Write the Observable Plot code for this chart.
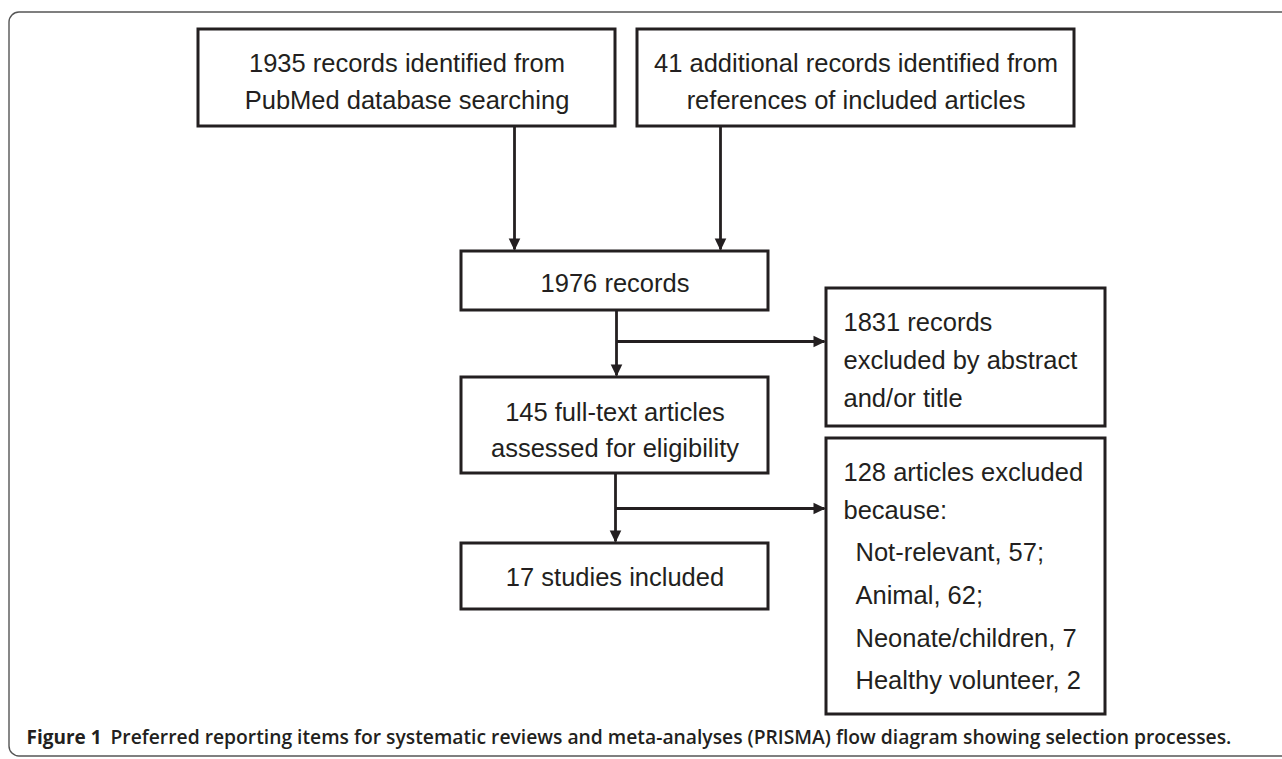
<!DOCTYPE html>
<html><head><meta charset="utf-8">
<script src="https://cdn.jsdelivr.net/npm/d3@7"></script>
<script src="https://cdn.jsdelivr.net/npm/@observablehq/plot@0.6"></script>
<style>html,body{margin:0;padding:0;background:#fff;overflow:hidden}</style>
</head><body><div id="chart"></div>
<script>
// ---- data (PRISMA flow) ----
const stageIds = ["database", "references", "records", "excludedAbstract", "fullText", "excludedFullText", "included"];
const stageCounts = [1935, 41, 1976, 1831, 145, 128, 17];
const stageLines = [
  ["1935 records identified from", "PubMed database searching"],
  ["41 additional records identified from", "references of included articles"],
  ["1976 records"],
  ["1831 records", "excluded by abstract", "and/or title"],
  ["145 full-text articles", "assessed for eligibility"],
  ["128 articles excluded", "because:"],
  ["17 studies included"]
];
const exclusionReasons = ["Not-relevant", "Animal", "Neonate/children", "Healthy volunteer"];
const exclusionCounts = [57, 62, 7, 2];
const exclusionSeparators = [";", ";", "", ""];
const flowFrom = ["database", "references", "records", "records", "fullText", "fullText"];
const flowTo = ["records", "records", "fullText", "excludedAbstract", "included", "excludedFullText"];
const captionLabel = "Figure 1";
const captionText = "Preferred reporting items for systematic reviews and meta-analyses (PRISMA) flow diagram showing selection processes.";

// ---- layout (positions in page pixels) ----
const W = 1282, H = 759;
const boxLayout = {
  database:         {x1: 198, x2: 615,  y1: 29,  y2: 126, align: "middle", tx: 406.5, ty: [63, 100]},
  references:       {x1: 637, x2: 1074, y1: 29,  y2: 126, align: "middle", tx: 855.5, ty: [63, 100]},
  records:          {x1: 461, x2: 768,  y1: 251, y2: 310, align: "middle", tx: 614.5, ty: [283]},
  excludedAbstract: {x1: 826, x2: 1105, y1: 288, y2: 426, align: "start",  tx: 843,   ty: [322, 360, 398]},
  fullText:         {x1: 461, x2: 768,  y1: 377, y2: 473, align: "middle", tx: 614.5, ty: [412, 448]},
  excludedFullText: {x1: 826, x2: 1105, y1: 438, y2: 714, align: "start",  tx: 843,   ty: [472, 510], rx: 855, ry: [552, 595, 638, 680]},
  included:         {x1: 461, x2: 768,  y1: 543, y2: 609, align: "middle", tx: 614.5, ty: [577]}
};
// flow connectors: [x1,y1,x2,y2] of the line and the arrow tip direction
const flowLayout = [
  {x1: 514, y1: 126, x2: 514, y2: 249, dir: "down"},
  {x1: 720, y1: 126, x2: 720, y2: 249, dir: "down"},
  {x1: 616, y1: 310, x2: 616, y2: 375, dir: "down"},
  {x1: 616, y1: 341, x2: 824, y2: 341, dir: "right"},
  {x1: 615, y1: 473, x2: 615, y2: 541, dir: "down"},
  {x1: 615, y1: 508, x2: 824, y2: 508, dir: "right"}
];

// ---- build mark tables ----
const boxes = stageIds.map((id, i) => ({id, count: stageCounts[i], ...boxLayout[id]}));
const texts = [];
stageIds.forEach((id, i) => {
  const L = boxLayout[id];
  stageLines[i].forEach((t, j) => texts.push({text: t, x: L.tx, y: L.ty[j], anchor: L.align}));
  if (id === "excludedFullText") {
    exclusionReasons.forEach((r, k) => texts.push({
      text: `${r}, ${exclusionCounts[k]}${exclusionSeparators[k]}`, x: L.rx, y: L.ry[k], anchor: "start"
    }));
  }
});
const flows = flowFrom.map((f, i) => ({from: f, to: flowTo[i], ...flowLayout[i]}));

const ink = "#231f20";
const headSymbol = {
  draw(ctx) { // tip at origin, pointing down
    ctx.moveTo(0, 1);
    ctx.lineTo(-5.8, -11);
    ctx.lineTo(5.8, -11);
    ctx.closePath();
  }
};
const boxFont = "Liberation Sans, Arial, sans-serif";

const chart = Plot.plot({
  width: W, height: H,
  margin: 0,
  x: {domain: [0, W], range: [0, W], axis: null},
  y: {domain: [0, H], range: [0, H], axis: null},
  marks: [
    // outer figure frame
    Plot.rect([{x1: 9, x2: W + 30, y1: 12, y2: 756}], {
      x1: "x1", x2: "x2", y1: "y1", y2: "y2", rx: 10,
      fill: "none", stroke: "#555", strokeWidth: 1.4, clip: true
    }),
    // connectors
    Plot.link(flows, {x1: "x1", y1: "y1", x2: "x2", y2: "y2", stroke: ink, strokeWidth: 2.8}),
    Plot.dot(flows, {
      x: "x2", y: "y2", symbol: headSymbol, r: 5, fill: ink, stroke: "none",
      rotate: d => d.dir === "down" ? 0 : -90
    }),
    // boxes
    Plot.rect(boxes, {x1: "x1", x2: "x2", y1: "y1", y2: "y2", fill: "white", stroke: ink, strokeWidth: 3}),
    // box text
    Plot.text(texts.filter(d => d.anchor === "middle"), {
      x: "x", y: "y", text: "text", textAnchor: "middle", lineAnchor: "middle",
      fontFamily: boxFont, fontSize: 25.5, fill: ink
    }),
    Plot.text(texts.filter(d => d.anchor === "start"), {
      x: "x", y: "y", text: "text", textAnchor: "start", lineAnchor: "middle",
      fontFamily: boxFont, fontSize: 25.5, fill: ink
    }),
    // caption
    Plot.text([captionLabel], {
      x: 26, y: 737, text: d => d, textAnchor: "start", lineAnchor: "middle",
      fontFamily: "Open Sans, sans-serif", fontWeight: 700, fontSize: 19, fill: ink
    }),
    Plot.text([captionText], {
      x: 110, y: 737, text: d => d, textAnchor: "start", lineAnchor: "middle",
      fontFamily: "Open Sans, sans-serif", fontWeight: 600, fontSize: 19.3, fill: ink
    })
  ]
});
document.getElementById("chart").appendChild(chart);
</script>
</body></html>
